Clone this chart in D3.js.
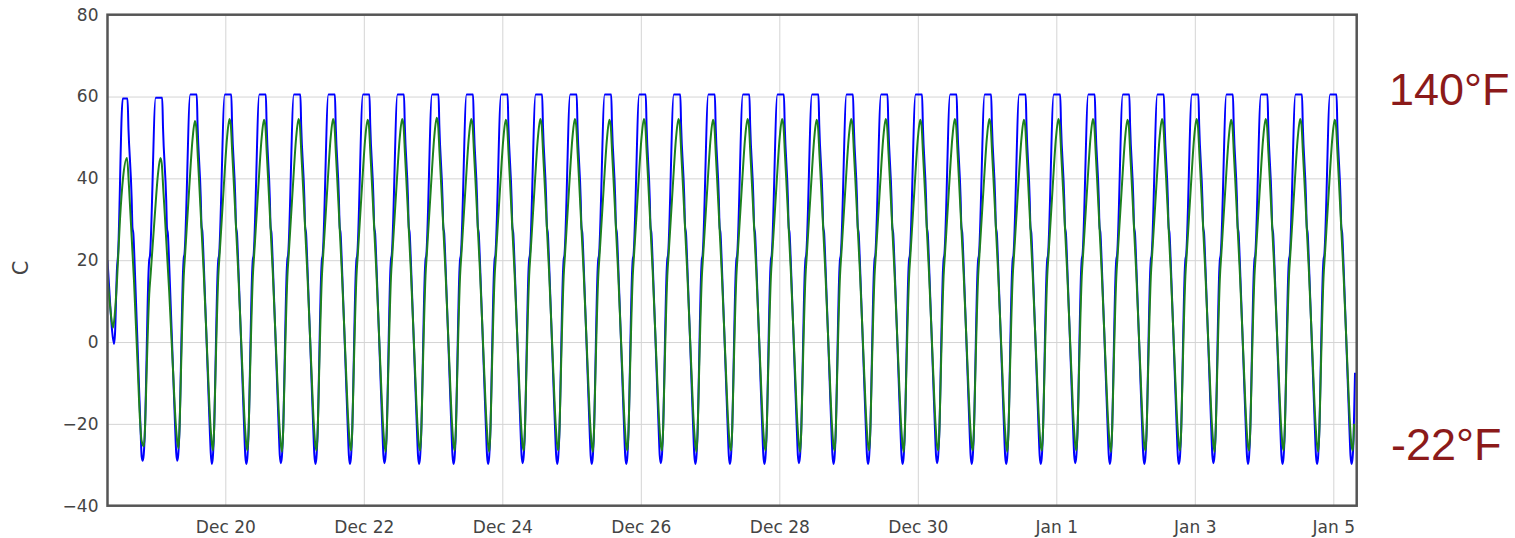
<!DOCTYPE html>
<html>
<head>
<meta charset="utf-8">
<script src="https://cdn.jsdelivr.net/npm/d3@7"></script>
<style>
  body { margin: 0; background: #fff; }
  svg text { font-family: "DejaVu Sans", sans-serif; }
</style>
</head>
<body>
<div id="chart"></div>
<script>
// hours are counted from Dec 18, 00:00
var viewStart = 7.17,
  viewEnd = 440.1,
  dataEnd = 439.52;

var xTickHours = [48, 96, 144, 192, 240, 288, 336, 384, 432];
var yTicks = [-40, -20, 0, 20, 40, 60, 80];

// time of each blue minimum (one cycle every ~12 h)
var cycleStart = [19.37, 31.34, 43.31, 55.28, 67.25, 79.22, 91.19, 103.16, 115.13,
  127.10, 139.07, 151.04, 163.01, 174.98, 186.95, 198.92, 210.89, 222.86, 234.83,
  246.80, 258.77, 270.74, 282.71, 294.68, 306.65, 318.62, 330.59, 342.56, 354.53,
  366.50, 378.47, 390.44, 402.41, 414.38, 426.35, 438.32];

// levels per cycle
var blueLow = [-29, -29, -29.8, -29.8, -29.6, -29.8, -29.8, -29.6, -29.8, -29.8, -29.8, -29.6,
  -29.8, -29.8, -29.8, -29.6, -29.8, -29.8, -29.8, -29.6, -29.8, -29.8, -29.8, -29.6,
  -29.8, -29.8, -29.8, -29.6, -29.8, -29.8, -29.8, -29.6, -29.8, -29.8, -29.8, -29.8];
var bluePeak = [59.7, 60.5, 60.5, 60.5, 60.5, 60.5, 60.5, 60.5, 60.5, 60.5, 60.5, 60.5,
  60.5, 60.5, 60.5, 60.5, 60.5, 60.5, 60.5, 60.5, 60.5, 60.5, 60.5, 60.5,
  60.5, 60.5, 60.5, 60.5, 60.5, 60.5, 60.5, 60.5, 60.5, 60.5, 60.5, 60.5];
var greenLow = [-25.5, -26, -26.5, -26.5, -26.8, -26.5, -26.5, -26.8, -26.5, -26.5, -26.8, -26.5,
  -26.5, -26.8, -26.5, -26.5, -26.8, -26.5, -26.5, -26.8, -26.5, -26.5, -26.8, -26.5,
  -26.5, -26.8, -26.5, -26.5, -26.8, -26.5, -26.5, -26.8, -26.5, -26.5, -26.8, -26.5];
var greenPeak = [45, 54, 54.5, 54.3, 54.5, 54.5, 54.3, 54.5, 54.8, 54.5, 54.3, 54.5,
  54.5, 54.3, 54.5, 54.5, 54.3, 54.5, 54.5, 54.3, 54.5, 54.5, 54.3, 54.5,
  54.5, 54.3, 54.5, 54.5, 54.3, 54.5, 54.5, 54.3, 54.5, 54.5, 54.3, 54.5];

// shape of one cycle (hours after the blue minimum, degC)
var blueShapeHours = [0, 0.35, 0.69, 2.08, 2.25, 2.50, 4.51, 6.76, 7.04, 8.15, 8.42, 8.73, 9.18, 10.50, 11.26, 11.61];
var blueShapeTemp = [-30, -28.5, -24, 18, 20, 21, 60.5, 60.5, 53, 35, 28, 26.5, 19, -7, -22, -28];
var greenShapeHours = [0.45, 0.87, 1.28, 2.25, 2.77, 4.16, 5.30, 6.13, 6.59, 7.11, 9.18, 10.50, 11.44, 11.96];
var greenShapeTemp = [-26.5, -20, -8, 16, 22, 38, 50, 54.5, 53, 46, 17, -5, -20, -25];

// first, partial cycle at the left edge
var blueLeadHours = [7.17, 8.03, 8.73, 9.42, 9.77, 10.46, 10.8, 12.44, 14.1, 14.44, 15.55, 15.82, 16.13, 16.58, 17.9, 18.66, 19.01];
var blueLeadTemp = [20, 10, 3, -0.5, 2, 18, 21, 59.5, 59.5, 52, 35, 28, 26.5, 19, -7, -22, -28];
var greenLeadHours = [7.17, 8.03, 9.08, 9.6, 10.46, 11.5, 12.54, 13.93, 14.62, 16.35, 17.57, 18.43, 18.95];
var greenLeadTemp = [16, 9, 3.5, 6, 15, 30, 40, 45, 38, 15, -5, -19, -24];

var blueTail = [[439.52, -7.5]];
var greenTail = [];

var margin = { top: 14.7, left: 107.5 },
  width = 1356.7 - 107.5,
  height = 505.7 - 14.7;

var base = new Date(2013, 11, 18).getTime();
function toDate(h) {
  return new Date(base + h * 3600 * 1000);
}

function buildSeries(leadH, leadT, shapeH, shapeT, lows, peaks, tail) {
  var shapeMin = d3.min(shapeT), shapeMax = d3.max(shapeT);
  var pts = leadH.map(function (h, i) {
    return [h, leadT[i]];
  });
  cycleStart.forEach(function (s, i) {
    shapeH.forEach(function (h, j) {
      if (s + h > dataEnd) return;
      var k = (shapeT[j] - shapeMin) / (shapeMax - shapeMin);
      pts.push([s + h, lows[i] + k * (peaks[i] - lows[i])]);
    });
  });
  return pts.concat(tail);
}

var blueData = buildSeries(blueLeadHours, blueLeadTemp, blueShapeHours, blueShapeTemp, blueLow, bluePeak, blueTail);
var greenData = buildSeries(greenLeadHours, greenLeadTemp, greenShapeHours, greenShapeTemp, greenLow, greenPeak, greenTail);

var svg = d3
  .select('#chart')
  .append('svg')
  .attr('width', 1515)
  .attr('height', 538);

var g = svg.append('g').attr('transform', 'translate(' + margin.left + ',' + margin.top + ')');

var xScale = d3.scaleTime().domain([toDate(viewStart), toDate(viewEnd)]).range([0, width]);
var yScale = d3.scaleLinear().domain([-40, 80]).range([height, 0]);

// grid
g.append('g')
  .attr('class', 'grid')
  .call(d3.axisLeft(yScale).tickValues(yTicks.slice(1, -1)).tickSize(-width).tickFormat(''))
  .call(function (s) {
    s.select('.domain').remove();
    s.selectAll('line').attr('stroke', '#d4d4d4').attr('stroke-width', 1);
  });

g.append('g')
  .attr('class', 'grid')
  .attr('transform', 'translate(0,' + height + ')')
  .call(d3.axisBottom(xScale).tickValues(xTickHours.map(toDate)).tickSize(-height).tickFormat(''))
  .call(function (s) {
    s.select('.domain').remove();
    s.selectAll('line').attr('stroke', '#d4d4d4').attr('stroke-width', 1);
  });

// lines
g.append('clipPath').attr('id', 'clip')
  .append('rect').attr('width', width).attr('height', height);

var line = d3
  .line()
  .x(function (d) { return xScale(toDate(d[0])); })
  .y(function (d) { return yScale(d[1]); })
  .curve(d3.curveMonotoneX);

g.append('path')
  .datum(blueData)
  .attr('clip-path', 'url(#clip)')
  .attr('fill', 'none')
  .attr('stroke', '#0000ff')
  .attr('stroke-width', 2)
  .attr('d', line);

g.append('path')
  .datum(greenData)
  .attr('clip-path', 'url(#clip)')
  .attr('fill', 'none')
  .attr('stroke', '#1e821e')
  .attr('stroke-width', 2)
  .attr('d', line);

// axes (labels only)
g.append('g')
  .attr('transform', 'translate(0,' + height + ')')
  .call(d3.axisBottom(xScale).tickValues(xTickHours.map(toDate)).tickSize(0).tickPadding(15)
    .tickFormat(d3.timeFormat('%b %-d')))
  .call(function (s) {
    s.select('.domain').remove();
    s.selectAll('text').attr('font-size', 17).attr('fill', '#444');
  });

g.append('g')
  .call(d3.axisLeft(yScale).tickValues(yTicks).tickSize(0).tickPadding(9))
  .call(function (s) {
    s.select('.domain').remove();
    s.selectAll('text').attr('font-size', 17).attr('fill', '#444');
  });

// frame
g.append('rect')
  .attr('width', width)
  .attr('height', height)
  .attr('fill', 'none')
  .attr('stroke', '#555')
  .attr('stroke-width', 2.5);

svg.append('text')
  .attr('transform', 'translate(21,268) rotate(-90)')
  .attr('text-anchor', 'middle')
  .attr('dy', '0.35em')
  .attr('font-size', 21)
  .attr('fill', '#444')
  .text('C');

svg.append('text')
  .attr('x', 1389)
  .attr('y', 105)
  .attr('font-size', 45)
  .attr('fill', '#8b1a1a')
  .style('font-family', '"Liberation Sans", Arial, sans-serif')
  .text('140°F');

svg.append('text')
  .attr('x', 1391)
  .attr('y', 460)
  .attr('font-size', 45)
  .attr('fill', '#8b1a1a')
  .style('font-family', '"Liberation Sans", Arial, sans-serif')
  .text('-22°F');
</script>
</body>
</html>
